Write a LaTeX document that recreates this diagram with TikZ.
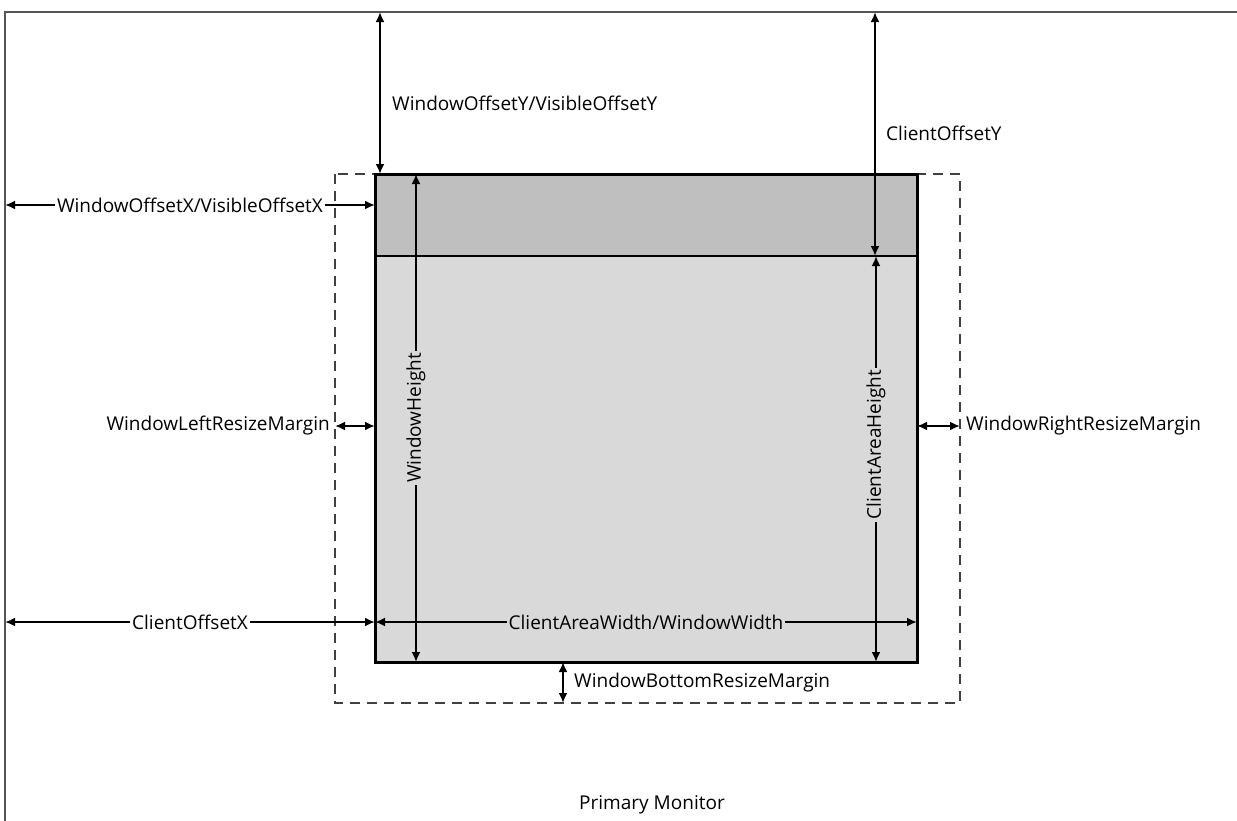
\documentclass[tikz,border=0pt]{standalone}
\usepackage{fontspec}
\setmainfont{Open Sans}
\usetikzlibrary{arrows.meta}
\definecolor{titlegray}{HTML}{BFBFBF}
\definecolor{clientgray}{HTML}{D9D9D9}
\definecolor{framegray}{HTML}{555555}
\begin{document}
\begin{tikzpicture}[x=1pt,y=-1pt,
  tip/.tip={Latex[length=10pt,width=9pt]},
  dim/.style={line width=2pt, tip-tip},
  lbl/.style={font=\fontsize{19}{23}\selectfont, inner sep=2pt},
  monitor/.style={draw=framegray, line width=2.2pt},
  resize/.style={draw=black!75, line width=1.5pt, dash pattern=on 10pt off 7pt},
  winframe/.style={draw=black, line width=3pt}]
\useasboundingbox (0,0) rectangle (1237,820);

% monitor frame
\draw[monitor] (1245,12) -- (5,12) -- (5,830);
\node[lbl] (primary) at (652,805) {Primary Monitor};

% resize border (dashed)
\draw[resize] (335,174) rectangle (960,703);

% window
\fill[clientgray] (375,256) rectangle (917,662);
\fill[titlegray] (375,174) rectangle (917,256);
\draw[line width=1.5pt] (375,256) -- (917,256);
\draw[winframe] (375,174) rectangle (917,662);

% coordinates
\coordinate (myA) at (380,12);   \coordinate (wyA) at (380,174);
\coordinate (myB) at (875,12);   \coordinate (cyB) at (875,256);
\coordinate (mxA) at (5,205);    \coordinate (wxA) at (375,205);
\coordinate (dlL) at (335,426);  \coordinate (wlL) at (375,426);
\coordinate (wrR) at (917,426);  \coordinate (drR) at (960,426);
\coordinate (whT) at (416,174);  \coordinate (whB) at (416,662);
\coordinate (chT) at (876,256);  \coordinate (chB) at (876,662);
\coordinate (mxC) at (5,622);    \coordinate (wxC) at (375,622);
\coordinate (cwR) at (917,622);
\coordinate (wbT) at (563,662);  \coordinate (dbB) at (563,703);

% dimension arrows
\draw[dim] (myA) -- (wyA);
\node[lbl, anchor=west] (offy) at (390,103) {WindowOffsetY/VisibleOffsetY};

\draw[dim] (myB) -- (cyB);
\node[lbl, anchor=west] (cliy) at (884,133) {ClientOffsetY};

\draw[dim] (mxA) -- node[lbl, fill=white] (offx) {WindowOffsetX/VisibleOffsetX} (wxA);

\draw[dim] (dlL) -- (wlL);
\node[lbl, anchor=east] (lmarg) at (332,426) {WindowLeftResizeMargin};

\draw[dim] (wrR) -- (drR);
\node[lbl, anchor=west] (rmarg) at (964,426) {WindowRightResizeMargin};

\draw[dim] (whB) -- node[lbl, fill=clientgray, rotate=90] (wheight) {WindowHeight} (whT);

\draw[dim] (chB) -- node[lbl, fill=clientgray, rotate=90, pos=0.535] (cheight) {ClientAreaHeight} (chT);

\draw[dim] (mxC) -- node[lbl, fill=white] (clix) {ClientOffsetX} (wxC);

\draw[dim] (wxC) -- node[lbl, fill=clientgray] (cwidth) {ClientAreaWidth/WindowWidth} (cwR);

\draw[dim] (wbT) -- (dbB);
\node[lbl, anchor=west] (bmarg) at (572,683) {WindowBottomResizeMargin};
\end{tikzpicture}
\end{document}
